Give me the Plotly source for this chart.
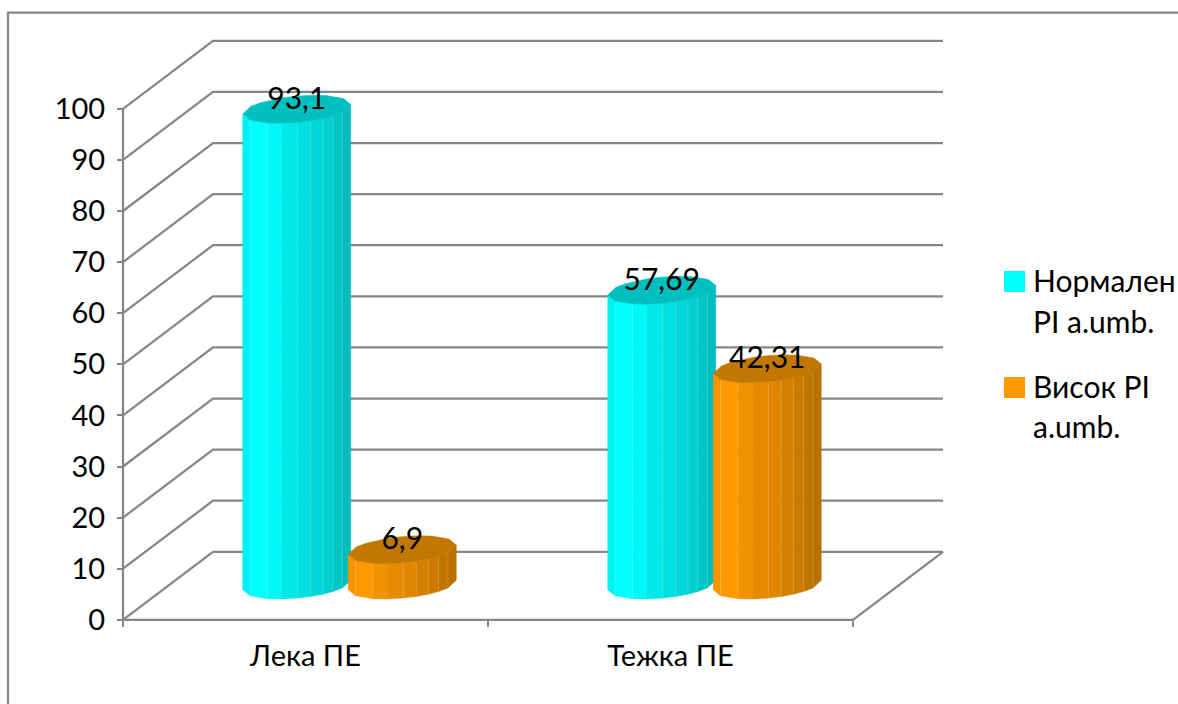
import plotly.graph_objects as go
import math

# Chart data
categories = ["Лека ПЕ", "Тежка ПЕ"]
normal_pi = [93.1, 57.69]
high_pi = [6.9, 42.31]
value_ticks = list(range(0, 101, 10))
legend_lines = [["Нормален", "PI a.umb."], ["Висок PI", "a.umb."]]

W, H = 1178, 704
FONT = "Lato"
FS = 29
GREY = "#868686"

# Oblique projection: pixels per axis unit and depth of the floor
PX_PER_CAT = 365.0
PX_PER_VAL = 5.11
ORIGIN_X, ORIGIN_Y = 123.0, 619.8
DEPTH_X = 90.0 / PX_PER_CAT
DEPTH_Y = 68.0 / PX_PER_VAL
n_cats = len(categories)

# Cylinder cross-section and faceting
RADIUS = 54.0 / PX_PER_CAT
MINOR = 14.0 / PX_PER_VAL
TILT = 20.0
BAR_STEP = 105.5 / PX_PER_CAT
MID_X = 44.0 / PX_PER_CAT
MID_Y = 34.8 / PX_PER_VAL
FACET_ANGLES = [180, 150, 123, 106, 89, 75, 61, 48, 32, 0]

CYAN = dict(cap="#00BFBF",
            faces=["#00F2F2", "#00FFFF", "#00F8F8", "#00E8E8", "#00E0E0",
                   "#00D8D8", "#00D0D0", "#00C6C6", "#00BDBD"])
ORANGE = dict(cap="#C27800",
              faces=["#F79400", "#FF9900", "#F39200", "#E68A00", "#E08600",
                     "#D68000", "#CC7A00", "#C27400", "#B87000"])


def rim(cx, level, angle):
    """Point on the cylinder's rim, in axis units, for a given angle."""
    a = math.radians(angle)
    return (cx + RADIUS * math.cos(a),
            level - MINOR * math.sin(a - math.radians(TILT)))


fig = go.Figure()

# Back wall, side wall and floor lines
wall_x, wall_y = [], []
for v in value_ticks:
    wall_x += [0, DEPTH_X, n_cats + DEPTH_X, None]
    wall_y += [v, v + DEPTH_Y, v + DEPTH_Y, None]
wall_x += [n_cats, n_cats + DEPTH_X, None, 0, n_cats, None, 0, 0]
wall_y += [0, DEPTH_Y, None, 0, 0, None, 0, value_ticks[-1]]
fig.add_trace(go.Scatter(x=wall_x, y=wall_y, mode="lines",
                         line=dict(color=GREY, width=2.25),
                         showlegend=False, hoverinfo="skip"))


def add_cylinder(cx, value, style):
    base = MID_Y
    top = value + MID_Y
    # Side facets, left to right
    for i, colour in enumerate(style["faces"]):
        a0, a1 = FACET_ANGLES[i], FACET_ANGLES[i + 1]
        p0, p1 = rim(cx, top, a0), rim(cx, top, a1)
        q1, q0 = rim(cx, base, a1), rim(cx, base, a0)
        fig.add_trace(go.Scatter(
            x=[p0[0], p1[0], q1[0], q0[0], p0[0]],
            y=[p0[1], p1[1], q1[1], q0[1], p0[1]],
            mode="lines", fill="toself", fillcolor=colour,
            line=dict(color=colour, width=0.5),
            showlegend=False, hoverinfo="skip"))
    # Thin highlights along the facet edges
    ex, ey = [], []
    for a in FACET_ANGLES[1:-1]:
        if a == 106:
            continue
        p, q = rim(cx, top, a), rim(cx, base, a)
        ex += [p[0], q[0], None]
        ey += [p[1], q[1], None]
    fig.add_trace(go.Scatter(x=ex, y=ey, mode="lines",
                             line=dict(color="rgba(255,255,255,0.16)", width=1),
                             showlegend=False, hoverinfo="skip"))
    # Top cap
    ring = FACET_ANGLES + [a + 180 for a in FACET_ANGLES[1:]]
    pts = [rim(cx, top, a) for a in ring]
    fig.add_trace(go.Scatter(
        x=[p[0] for p in pts], y=[p[1] for p in pts],
        mode="lines", fill="toself", fillcolor=style["cap"],
        line=dict(color=style["cap"], width=0.5),
        showlegend=False, hoverinfo="skip"))


centres = []
for i in range(n_cats):
    mid = i + 0.5 + MID_X
    add_cylinder(mid - BAR_STEP / 2, normal_pi[i], CYAN)
    add_cylinder(mid + BAR_STEP / 2, high_pi[i], ORANGE)
    centres.append(mid)

# Value labels sit just above each cap's centre
label_x, label_y, label_text = [], [], []
for i, mid in enumerate(centres):
    for offset, v in ((-BAR_STEP / 2, normal_pi[i]), (BAR_STEP / 2, high_pi[i])):
        label_x.append(mid + offset)
        label_y.append(v + MID_Y + 1.6)
        label_text.append(str(v).replace(".", ","))
fig.add_trace(go.Scatter(x=label_x, y=label_y, text=label_text, mode="text",
                         textposition="middle center",
                         textfont=dict(family=FONT, size=FS + 1, color="black"),
                         showlegend=False, hoverinfo="skip"))

# Hand-built legend: swatches and wrapped text lines
shapes = []
annotations = []
swatches = [(CYAN["faces"][1], 271), (ORANGE["faces"][1], 377)]
line_centres = [[280, 321], [386, 426]]
for (colour, top), lines, ys in zip(swatches, legend_lines, line_centres):
    shapes.append(dict(type="rect", xref="paper", yref="paper",
                       x0=1004 / W, x1=1025 / W,
                       y0=1 - (top + 21) / H, y1=1 - top / H,
                       fillcolor=colour, line=dict(width=0)))
    for text, yc in zip(lines, ys):
        annotations.append(dict(text=text, xref="paper", yref="paper",
                                x=1031 / W, y=1 - yc / H, xanchor="left",
                                yanchor="middle", showarrow=False,
                                font=dict(family=FONT, size=FS + 1, color="black")))

# Outer chart frame, running off the right and bottom edges
shapes.append(dict(type="path", xref="paper", yref="paper",
                   path=f"M {8 / W} 0 L {8 / W} {1 - 12.5 / H} L 1 {1 - 12.5 / H}",
                   line=dict(color=GREY, width=2.25)))

fig.update_layout(
    width=W, height=H, margin=dict(l=0, r=0, t=0, b=0, pad=0),
    paper_bgcolor="white", plot_bgcolor="white", showlegend=False,
    shapes=shapes, annotations=annotations,
    font=dict(family=FONT, size=FS, color="black"),
    xaxis=dict(range=[-ORIGIN_X / PX_PER_CAT, (W - ORIGIN_X) / PX_PER_CAT],
               domain=[0, 1], anchor="free", position=(H - ORIGIN_Y) / H,
               showgrid=False, zeroline=False, showline=False,
               tickmode="array", tickvals=[0.5, 1.5], ticktext=categories,
               ticks="", ticklabelstandoff=16,
               minor=dict(tickmode="array", tickvals=[0, 1, 2], ticks="outside",
                          ticklen=6, tickwidth=2, tickcolor=GREY, showgrid=False)),
    yaxis=dict(range=[(ORIGIN_Y - H) / PX_PER_VAL, ORIGIN_Y / PX_PER_VAL],
               domain=[0, 1], anchor="free", position=ORIGIN_X / W,
               showgrid=False, zeroline=False, showline=False,
               tickmode="array", tickvals=value_ticks,
               ticks="outside", ticklen=6, tickwidth=2, tickcolor=GREY,
               ticklabelstandoff=6),
)

fig.write_html("out.html")
